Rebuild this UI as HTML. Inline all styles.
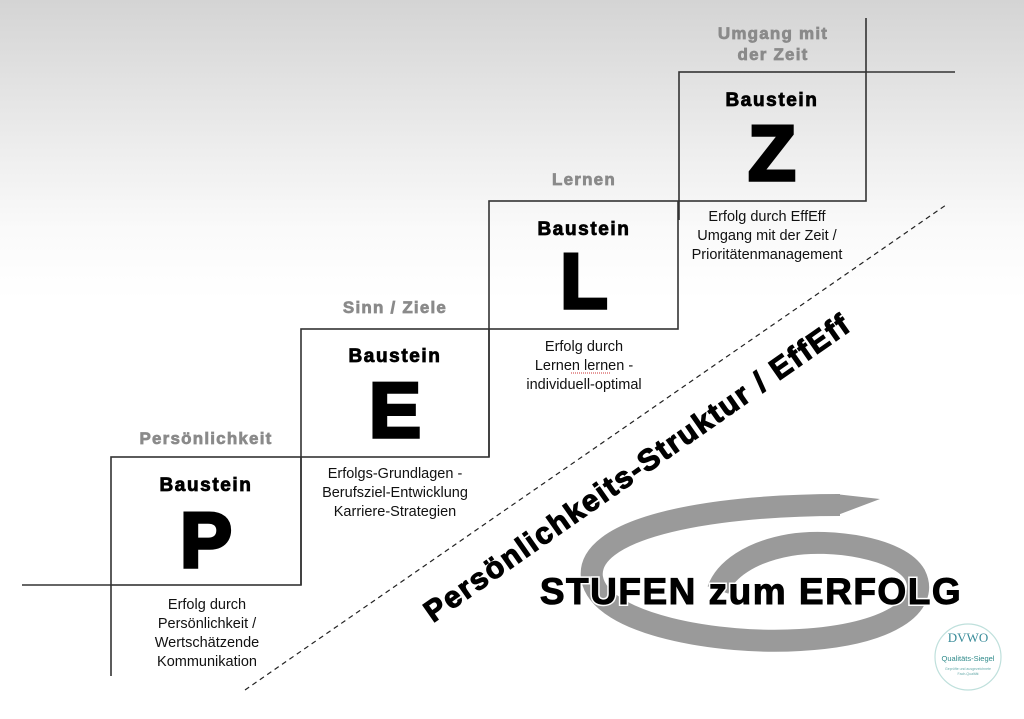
<!DOCTYPE html>
<html><head><meta charset="utf-8"><style>
html,body{margin:0;padding:0;}
body{width:1024px;height:719px;overflow:hidden;background:linear-gradient(#d4d4d4 0px,#ececec 140px,#fafafa 230px,#fff 300px,#fff 719px);}
svg{display:block;}
text{font-family:"Liberation Sans",Arial,sans-serif;}
.g{fill:#8a8a8a;font-weight:bold;font-size:17px;text-anchor:middle;letter-spacing:1.2px;stroke:#8a8a8a;stroke-width:0.7px;}
.b{fill:#000;font-weight:bold;font-size:19px;text-anchor:middle;letter-spacing:1.6px;stroke:#000;stroke-width:0.8px;}
.big{fill:#000;font-weight:900;font-size:78px;text-anchor:middle;stroke:#000;stroke-width:3.5px;}
.d{fill:#111;font-size:14.5px;text-anchor:middle;}
</style></head><body>
<svg width="1024" height="719" viewBox="0 0 1024 719">
<!-- spiral -->
<g fill="none" stroke="#9a9a9a" stroke-linecap="butt">
<path d="M840 505 C700 505 585 530 592 578 C600 625 720 645 800 640 C890 635 930 605 915 575 C900 548 830 538 790 545 C750 552 725 570 718 590" stroke-width="22"/>
</g>
<polygon points="880,499 835,494 835,516" fill="#9a9a9a"/>
<!-- lines -->
<g stroke="#333" stroke-width="1.6" fill="none">
<rect x="111" y="457" width="190" height="128"/>
<rect x="301" y="329" width="188" height="128"/>
<rect x="489" y="201" width="189" height="128"/>
<rect x="679" y="72" width="187" height="129"/>
<line x1="22" y1="585" x2="111" y2="585"/>
<line x1="111" y1="585" x2="111" y2="676"/>
<line x1="301" y1="457" x2="301" y2="585"/>
<line x1="489" y1="329" x2="489" y2="457"/>
<line x1="679" y1="201" x2="679" y2="220"/>
<line x1="866" y1="18" x2="866" y2="72"/>
<line x1="866" y1="72" x2="955" y2="72"/>
</g>
<line x1="245" y1="690" x2="946" y2="205" stroke="#222" stroke-width="1.2" stroke-dasharray="5,4"/>
<!-- gray labels -->
<text class="g" x="206" y="444">Persönlichkeit</text>
<text class="g" x="395" y="313">Sinn / Ziele</text>
<text class="g" x="584" y="185">Lernen</text>
<text class="g" x="773" y="39">Umgang mit</text>
<text class="g" x="773" y="60">der Zeit</text>
<!-- Baustein -->
<text class="b" x="206" y="491">Baustein</text>
<text class="b" x="395" y="362">Baustein</text>
<text class="b" x="584" y="235">Baustein</text>
<text class="b" x="772" y="106">Baustein</text>
<text class="big" x="206" y="567">P</text>
<text class="big" x="395" y="437">E</text>
<text class="big" x="584" y="308">L</text>
<text class="big" x="772" y="180">Z</text>
<!-- descriptions -->
<text class="d" x="207" y="609">Erfolg durch</text>
<text class="d" x="207" y="628">Persönlichkeit /</text>
<text class="d" x="207" y="647">Wertschätzende</text>
<text class="d" x="207" y="666">Kommunikation</text>
<text class="d" x="395" y="478">Erfolgs-Grundlagen -</text>
<text class="d" x="395" y="497">Berufsziel-Entwicklung</text>
<text class="d" x="395" y="516">Karriere-Strategien</text>
<text class="d" x="584" y="351">Erfolg durch</text>
<text class="d" x="584" y="370">Lernen lernen -</text>
<text class="d" x="584" y="389">individuell-optimal</text>
<line x1="571" y1="373" x2="611" y2="373" stroke="#c33" stroke-width="1" stroke-dasharray="1,1"/>
<text class="d" x="767" y="221">Erfolg durch EffEff</text>
<text class="d" x="767" y="240">Umgang mit der Zeit /</text>
<text class="d" x="767" y="259">Prioritätenmanagement</text>
<!-- rotated -->
<text x="0" y="0" transform="translate(643,476) rotate(-35)" text-anchor="middle" style="font-weight:900;font-size:30px;fill:#000;stroke:#000;stroke-width:1.2px;letter-spacing:1.8px">Persönlichkeits-Struktur / EffEff</text>
<!-- title -->
<text x="751" y="604" text-anchor="middle" style="font-weight:900;font-size:37px;fill:#000;stroke:#fff;stroke-width:4px;paint-order:stroke;letter-spacing:1.5px">STUFEN zum ERFOLG</text>
<text x="751" y="604" text-anchor="middle" style="font-weight:900;font-size:37px;fill:#000;stroke:#000;stroke-width:1px;letter-spacing:1.5px">STUFEN zum ERFOLG</text>
<!-- logo -->
<circle cx="968" cy="657" r="33" fill="#fff" stroke="#bfe0dc" stroke-width="1.2"/>
<text x="968" y="642" text-anchor="middle" style="font-family:'Liberation Serif',serif;font-size:13px;fill:#3a8c9a">DVWO</text>
<text x="968" y="661" text-anchor="middle" style="font-size:7.5px;fill:#2f8a8a">Qualitäts-Siegel</text>
<text x="968" y="670" text-anchor="middle" style="font-size:3.5px;fill:#6aa">Geprüfte und ausgezeichnete</text>
<text x="968" y="675" text-anchor="middle" style="font-size:3.5px;fill:#6aa">Fach-Qualität</text>
</svg>
</body></html>
